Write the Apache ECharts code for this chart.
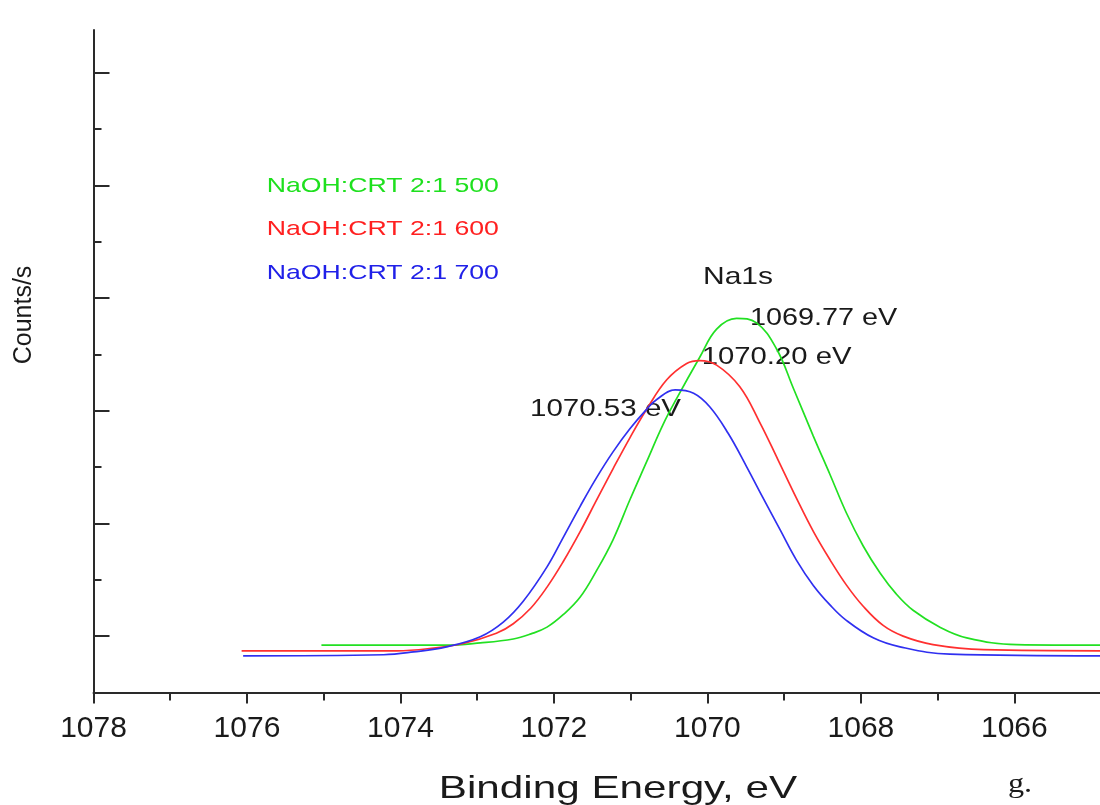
<!DOCTYPE html>
<html>
<head>
<meta charset="utf-8">
<script src="https://cdn.jsdelivr.net/npm/echarts@6/dist/echarts.min.js"></script>
<style>
html,body{margin:0;padding:0;background:#fff;}
#chart{width:1100px;height:805px;}
</style>
</head>
<body>
<div id="chart"></div>
<script>
// ---- data ----
const seriesNames = ['NaOH:CRT 2:1 500', 'NaOH:CRT 2:1 600', 'NaOH:CRT 2:1 700'];
const energyGreen = [1075.03, 1073.40, 1072.96, 1072.53, 1072.30, 1072.09, 1071.88, 1071.66, 1071.45, 1071.23, 1071.01, 1070.79, 1070.58, 1070.40, 1070.10, 1069.88, 1069.62, 1069.36, 1069.10, 1068.88, 1068.62, 1068.40, 1068.19, 1067.97, 1067.75, 1067.54, 1067.32, 1066.97, 1066.62, 1065.97, 1064.88];
const countsGreen = [0.84, 0.84, 0.88, 0.95, 1.04, 1.16, 1.38, 1.69, 2.15, 2.71, 3.42, 4.10, 4.75, 5.22, 5.95, 6.45, 6.64, 6.56, 6.10, 5.40, 4.55, 3.86, 3.19, 2.60, 2.12, 1.75, 1.46, 1.16, 0.97, 0.85, 0.84];
const energyRed = [1076.07, 1074.05, 1073.62, 1073.18, 1072.75, 1072.53, 1072.30, 1072.09, 1071.88, 1071.66, 1071.45, 1071.23, 1071.01, 1070.79, 1070.53, 1070.27, 1070.10, 1069.88, 1069.58, 1069.32, 1069.08, 1068.84, 1068.62, 1068.40, 1068.19, 1067.97, 1067.71, 1067.45, 1067.06, 1066.40, 1064.88];
const countsRed = [0.74, 0.74, 0.78, 0.87, 1.05, 1.22, 1.50, 1.87, 2.32, 2.85, 3.40, 3.97, 4.52, 5.03, 5.55, 5.84, 5.89, 5.81, 5.43, 4.80, 4.13, 3.45, 2.86, 2.35, 1.91, 1.53, 1.19, 1.00, 0.85, 0.76, 0.74];
const energyBlue = [1076.05, 1074.22, 1073.83, 1073.40, 1072.96, 1072.66, 1072.40, 1072.09, 1071.88, 1071.66, 1071.45, 1071.23, 1071.01, 1070.79, 1070.66, 1070.42, 1070.18, 1069.97, 1069.73, 1069.49, 1069.27, 1069.05, 1068.84, 1068.62, 1068.40, 1068.19, 1067.84, 1067.49, 1066.84, 1064.88];
const countsBlue = [0.65, 0.67, 0.72, 0.81, 0.99, 1.25, 1.62, 2.23, 2.75, 3.30, 3.80, 4.27, 4.68, 5.03, 5.20, 5.37, 5.31, 5.07, 4.60, 4.01, 3.44, 2.88, 2.35, 1.90, 1.55, 1.28, 0.97, 0.81, 0.68, 0.65];
const xMajorTicks = [1066, 1068, 1070, 1072, 1074, 1076, 1078];
const xMinorTicks = [1067, 1069, 1071, 1073, 1075, 1077];
const yMajorTicks = [1, 3, 5, 7, 9, 11];
const yMinorTicks = [2, 4, 6, 8, 10];
const peakLabels = ['1069.77 eV', '1070.20 eV', '1070.53 eV'];
const peakTitle = 'Na1s';
const xTitle = 'Binding Energy, eV';
const yTitle = 'Counts/s';

// ---- styles ----
const colors = ['#22e022', '#ff3030', '#3030f0'];
const legendColors = ['#1ee01e', '#ff2020', '#2020e8'];
const axisColor = '#2a2a2a';

function pairs(xs, ys) { return xs.map((x, i) => [x, ys[i]]); }

const chart = echarts.init(document.getElementById('chart'), null, {renderer: 'canvas'});

const xMin = 1064.884, xMax = 1078;

const baseX = {
  type: 'value', min: xMin, max: xMax, inverse: true, position: 'bottom',
  splitLine: {show: false}
};
const baseY = {
  type: 'value', min: 0, max: 11.757, position: 'left',
  splitLine: {show: false}
};

function txt(t, x, y, fs, color, sx) {
  return {
    type: 'text', x: x, y: y, scaleX: sx || 1, silent: true,
    style: {
      text: t, x: 0, y: 0,
      font: fs + 'px "Liberation Sans", Arial, sans-serif',
      fill: color,
      align: 'left', textAlign: 'left',
      verticalAlign: 'middle', textVerticalAlign: 'middle'
    }
  };
}

const lineBase = {type: 'line', xAxisIndex: 0, yAxisIndex: 0, showSymbol: false, smooth: 0.4};

const option = {
  backgroundColor: '#ffffff',
  animation: false,
  grid: {left: 93.5, top: 30, right: 0, bottom: 112.5, containLabel: false},
  xAxis: [
    Object.assign({}, baseX, {
      axisLine: {show: true, onZero: false, lineStyle: {color: axisColor, width: 2}},
      axisTick: {show: true, inside: false, length: 11, lineStyle: {color: axisColor, width: 2}, customValues: xMajorTicks},
      axisLabel: {show: true, customValues: xMajorTicks, margin: 21, fontSize: 30,
        formatter: v => String(Math.round(v)),
        fontFamily: '"Liberation Sans", Arial, sans-serif', color: '#1a1a1a'}
    }),
    Object.assign({}, baseX, {
      axisLine: {show: false, onZero: false},
      axisTick: {show: true, inside: false, length: 8, lineStyle: {color: axisColor, width: 2}, customValues: xMinorTicks},
      axisLabel: {show: false}
    })
  ],
  yAxis: [
    Object.assign({}, baseY, {
      axisLine: {show: true, onZero: false, lineStyle: {color: axisColor, width: 2}},
      axisTick: {show: true, inside: true, length: 16, lineStyle: {color: axisColor, width: 2}, customValues: yMajorTicks},
      axisLabel: {show: false}
    }),
    Object.assign({}, baseY, {
      axisLine: {show: false, onZero: false},
      axisTick: {show: true, inside: true, length: 8, lineStyle: {color: axisColor, width: 2}, customValues: yMinorTicks},
      axisLabel: {show: false}
    })
  ],
  series: [
    Object.assign({}, lineBase, {name: seriesNames[0], data: pairs(energyGreen, countsGreen),
      lineStyle: {color: colors[0], width: 1.7}, itemStyle: {color: colors[0]}}),
    Object.assign({}, lineBase, {name: seriesNames[1], data: pairs(energyRed, countsRed),
      lineStyle: {color: colors[1], width: 1.7}, itemStyle: {color: colors[1]}}),
    Object.assign({}, lineBase, {name: seriesNames[2], data: pairs(energyBlue, countsBlue),
      lineStyle: {color: colors[2], width: 1.7}, itemStyle: {color: colors[2]}})
  ],
  graphic: [
    txt(seriesNames[0], 266.7, 186, 21, legendColors[0], 1.27),
    txt(seriesNames[1], 266.7, 229.5, 21, legendColors[1], 1.27),
    txt(seriesNames[2], 266.7, 273, 21, legendColors[2], 1.27),
    txt(peakTitle, 703, 277.5, 24, '#1a1a1a', 1.25),
    txt(peakLabels[0], 750, 318, 24, '#1a1a1a', 1.2),
    txt(peakLabels[1], 701.7, 357, 24, '#1a1a1a', 1.22),
    txt(peakLabels[2], 530, 409.5, 24, '#1a1a1a', 1.23),
    {
      type: 'text', x: 24, y: 315, rotation: Math.PI / 2, silent: true,
      style: {text: yTitle, x: 0, y: 0, font: '25px "Liberation Sans", Arial, sans-serif', fill: '#1a1a1a',
        align: 'center', textAlign: 'center', verticalAlign: 'middle', textVerticalAlign: 'middle'}
    },
    {
      type: 'text', x: 618, y: 789, scaleX: 1.32, silent: true,
      style: {text: xTitle, x: 0, y: 0, font: '32px "Liberation Sans", Arial, sans-serif', fill: '#1a1a1a',
        align: 'center', textAlign: 'center', verticalAlign: 'middle', textVerticalAlign: 'middle'}
    },
    {
      type: 'text', x: 1008, y: 785, scaleX: 1.15, silent: true,
      style: {text: 'g.', x: 0, y: 0, font: '28px "Liberation Serif", "Times New Roman", serif', fill: '#1a1a1a',
        align: 'left', textAlign: 'left', verticalAlign: 'middle', textVerticalAlign: 'middle'}
    }
  ]
};
chart.setOption(option);
</script>
</body>
</html>
